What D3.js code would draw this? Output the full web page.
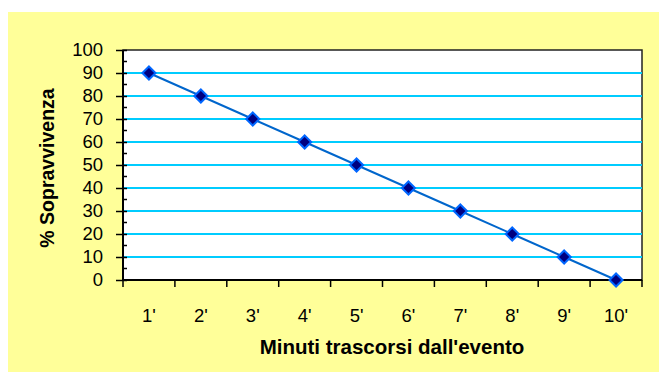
<!DOCTYPE html>
<html><head><meta charset="utf-8">
<script src="https://cdn.jsdelivr.net/npm/d3@7"></script>
<style>html,body{margin:0;padding:0;background:#fff;}svg{display:block;font-family:"Liberation Sans",Arial,sans-serif;}</style>
</head><body>
<script>
const categories = ["1'","2'","3'","4'","5'","6'","7'","8'","9'","10'"];
const values = [90,80,70,60,50,40,30,20,10,0];
const yTicks = [0,10,20,30,40,50,60,70,80,90,100];
const xTitle = "Minuti trascorsi dall'evento";
const yTitle = "% Sopravvivenza";

const W = 659, H = 372;
const svg = d3.select("body").append("svg").attr("width", W).attr("height", H);
svg.append("rect").attr("x", 8).attr("y", 12).attr("width", W - 8).attr("height", H - 12).attr("fill", "#ffff99");

const L = 123, R = 642, T = 50, B = 280;
const x = d3.scaleBand().domain(categories).range([L, R]).padding(0);
const y = d3.scaleLinear().domain([0, 100]).range([B, T]);

svg.append("rect").attr("x", L).attr("y", T).attr("width", R - L).attr("height", B - T)
  .attr("fill", "#fff").attr("stroke", "#222").attr("stroke-width", 1.5);

// gridlines
svg.append("g").selectAll("line").data(yTicks.filter(d => d > 0 && d < 100)).join("line")
  .attr("x1", L).attr("x2", R).attr("y1", d => y(d)).attr("y2", d => y(d))
  .attr("stroke", "#00ccff").attr("stroke-width", 2);

// y axis
const ya = svg.append("g").attr("transform", `translate(${L},0)`)
  .call(d3.axisLeft(y).tickValues(yTicks).tickSize(7).tickPadding(13).tickFormat(d3.format("d")));
ya.select(".domain").remove();
ya.selectAll(".tick line").attr("x2", -7).attr("x1", 4).attr("stroke", "#000").attr("stroke-width", 1.5);
ya.selectAll("text").attr("font-size", 18.5).attr("fill", "#000").attr("font-family", "Liberation Sans, Arial, sans-serif");
// minor ticks
const minor = d3.range(5, 100, 10);
svg.append("g").selectAll("line").data(minor).join("line")
  .attr("x1", L).attr("x2", L + 4).attr("y1", d => y(d)).attr("y2", d => y(d))
  .attr("stroke", "#000").attr("stroke-width", 1.5);
svg.append("line").attr("x1", L).attr("x2", L).attr("y1", T).attr("y2", B).attr("stroke", "#000").attr("stroke-width", 2);

// x axis
const xa = svg.append("g").attr("transform", `translate(0,${B})`)
  .call(d3.axisBottom(x).tickSize(0).tickPadding(29));
xa.select(".domain").remove();
xa.selectAll("text").attr("font-size", 18.5).attr("fill", "#000").attr("font-family", "Liberation Sans, Arial, sans-serif");
const bounds = categories.map(c => x(c)).concat([R]);
svg.append("g").selectAll("line").data(bounds).join("line")
  .attr("x1", d => d).attr("x2", d => d).attr("y1", B).attr("y2", B + 7)
  .attr("stroke", "#000").attr("stroke-width", 1.5);
svg.append("line").attr("x1", L).attr("x2", R).attr("y1", B).attr("y2", B).attr("stroke", "#000").attr("stroke-width", 2);

// line
const cx = d => x(d) + x.bandwidth() / 2;
svg.append("path").datum(values)
  .attr("d", d3.line().x((d, i) => cx(categories[i])).y(d => y(d)))
  .attr("fill", "none").attr("stroke", "#0066cc").attr("stroke-width", 2);

// markers
svg.append("g").selectAll("path").data(values).join("path")
  .attr("transform", (d, i) => `translate(${cx(categories[i])},${y(d)})`)
  .attr("d", d3.symbol().type(d3.symbolDiamond2).size(110))
  .attr("fill", "#000080").attr("stroke", "#0066ff").attr("stroke-width", 2);

// titles
svg.append("text").attr("x", 392).attr("y", 354).attr("text-anchor", "middle")
  .attr("font-size", 20.5).attr("font-weight", "bold").text(xTitle);
svg.append("text").attr("transform", "translate(54,168) rotate(-90)").attr("text-anchor", "middle")
  .attr("font-size", 19.5).attr("font-weight", "bold").text(yTitle);
</script>
</body></html>
